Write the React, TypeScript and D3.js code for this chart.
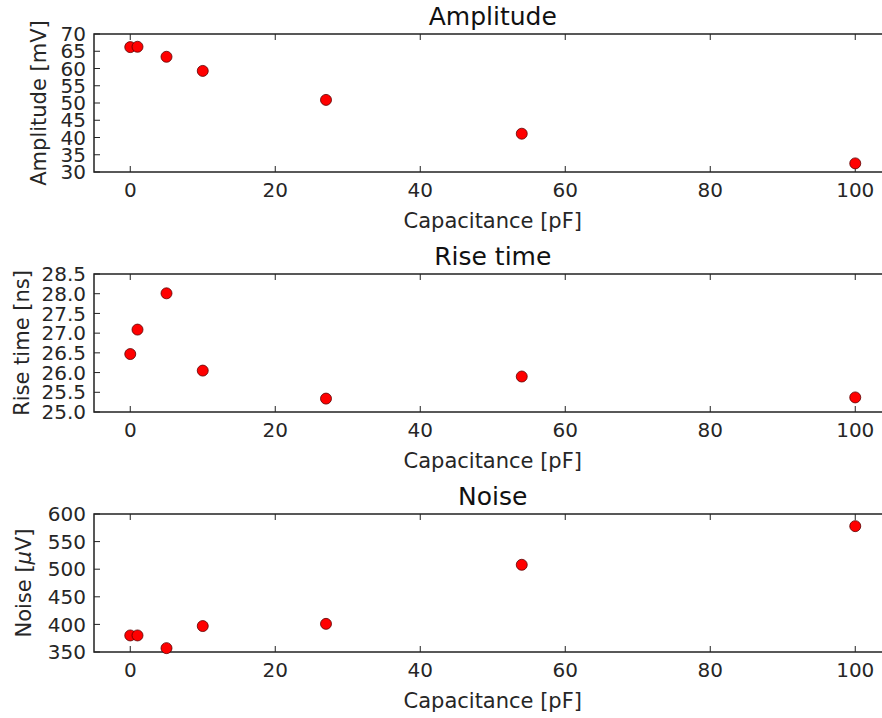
import React from "react";
import * as d3 from "d3";

const capacitance = [0, 1, 5, 10, 27, 54, 100];
const amplitude = [66.2, 66.3, 63.4, 59.3, 50.9, 41.1, 32.5];
const riseTime = [26.47, 27.09, 28.01, 26.05, 25.34, 25.9, 25.37];
const noise = [380, 380, 357, 397, 401, 508, 578];

const xTicks = [0, 20, 40, 60, 80, 100];
const amplitudeTicks = [30, 35, 40, 45, 50, 55, 60, 65, 70];
const riseTicks = [25.0, 25.5, 26.0, 26.5, 27.0, 27.5, 28.0, 28.5];
const noiseTicks = [350, 400, 450, 500, 550, 600];

const titles = ["Amplitude", "Rise time", "Noise"];
const yLabels = [["Amplitude [mV]"], ["Rise time [ns]"], ["Noise [", "\u03BC", "V]"]];
const xLabel = "Capacitance [pF]";

const W = 882;
const H = 718;
const FONT = "DejaVu Sans, sans-serif";
const TEXT = "#262626";
const AX = "#222";

const panels = [
  { top: 34, bottom: 172, series: amplitude, domain: [30, 70], ticks: amplitudeTicks, fmt: (v: number) => d3.format("d")(v), labelX: 38 },
  { top: 274, bottom: 412, series: riseTime, domain: [25, 28.5], ticks: riseTicks, fmt: (v: number) => d3.format(".1f")(v), labelX: 21 },
  { top: 514, bottom: 652, series: noise, domain: [350, 600], ticks: noiseTicks, fmt: (v: number) => d3.format("d")(v), labelX: 23 },
];

const x = d3.scaleLinear().domain([-5, 105]).range([94, 891.5]);
const TL = 6;

function Panel({ p, i }: { p: typeof panels[number]; i: number }) {
  const y = d3.scaleLinear().domain(p.domain).range([p.bottom, p.top]);
  const left = x.range()[0];
  const right = x.range()[1];
  const parts = yLabels[i];
  return (
    <g>
      <text x={(left + right) / 2} y={p.top - 9} textAnchor="middle" fontFamily={FONT} fontSize={25} fill="#111">
        {titles[i]}
      </text>
      {xTicks.map((t) => (
        <g key={"x" + t}>
          <line x1={x(t)} x2={x(t)} y1={p.bottom} y2={p.bottom - TL} stroke={AX} strokeWidth={1} />
          <line x1={x(t)} x2={x(t)} y1={p.top} y2={p.top + TL} stroke={AX} strokeWidth={1} />
          <text x={x(t)} y={p.bottom + 25} textAnchor="middle" fontFamily={FONT} fontSize={20} fill={TEXT}>
            {t}
          </text>
        </g>
      ))}
      {p.ticks.map((t) => (
        <g key={"y" + t}>
          <line x1={left} x2={left + TL} y1={y(t)} y2={y(t)} stroke={AX} strokeWidth={1} />
          <line x1={right} x2={right - TL} y1={y(t)} y2={y(t)} stroke={AX} strokeWidth={1} />
          <text x={86} y={y(t)} dy="0.36em" textAnchor="end" fontFamily={FONT} fontSize={20} fill={TEXT}>
            {p.fmt(t)}
          </text>
        </g>
      ))}
      <rect x={left} y={p.top} width={right - left} height={p.bottom - p.top} fill="none" stroke={AX} strokeWidth={1.5} />
      <text x={(left + right) / 2} y={p.bottom + 56} textAnchor="middle" fontFamily={FONT} fontSize={21} fill={TEXT}>
        {xLabel}
      </text>
      <text
        transform={`translate(${p.labelX},${(p.top + p.bottom) / 2}) rotate(-90)`}
        dy="0.36em"
        textAnchor="middle"
        fontFamily={FONT}
        fontSize={21}
        fill={TEXT}
      >
        {parts.map((s, k) =>
          k === 1 ? (
            <tspan key={k} fontStyle="italic">{s}</tspan>
          ) : (
            <tspan key={k}>{s}</tspan>
          )
        )}
      </text>
      {capacitance.map((c, k) => (
        <circle key={k} cx={x(c)} cy={y(p.series[k])} r={5.5} fill="#ff0000" stroke="#5a0000" strokeWidth={0.8} />
      ))}
    </g>
  );
}

export default function App() {
  return (
    <svg width={W} height={H} style={{ position: "absolute", left: 0, top: 0, background: "#fff" }}>
      <rect width={W} height={H} fill="#fff" />
      {panels.map((p, i) => (
        <Panel key={i} p={p} i={i} />
      ))}
    </svg>
  );
}
